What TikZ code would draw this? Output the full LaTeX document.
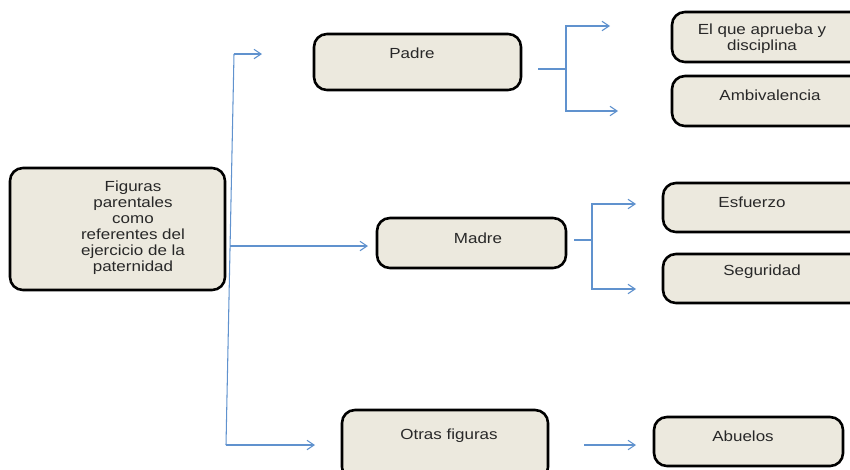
\documentclass[tikz,border=0pt]{standalone}
\usepackage{fontspec}
\setmainfont{Liberation Sans}[FakeStretch=1.16]
\usetikzlibrary{arrows.meta,calc}
\definecolor{boxfill}{RGB}{236,233,222}
\definecolor{linkblue}{RGB}{96,146,206}
\definecolor{textgray}{RGB}{40,40,40}

\begin{document}
\begin{tikzpicture}[x=0.03cm, y=-0.03cm, >={Straight Barb[length=6pt,width=8pt]},
  box/.style 2 args={draw, line width=2.2pt, rounded corners=11pt, fill=boxfill,
    minimum width=#1*0.03cm, minimum height=#2*0.03cm, inner sep=0pt},
  txt/.style={text=textgray, align=center, inner sep=0pt,
    font=\fontsize{12.5}{13.6}\selectfont},
  link/.style={linkblue, line width=0.9pt}]
\useasboundingbox (0,0) rectangle (850,469);
\clip (0,0) rectangle (850,469);

% boxes
\node[box={215}{122}] (figuras) at (117.5,229) {};
\node[box={207}{56}] (padre) at (417.5,62) {};
\node[box={189}{50}] (madre) at (471.5,243) {};
\node[box={206}{70}] (otras) at (445,445) {};
\node[box={198}{50}] (aprueba) at (771,37) {};
\node[box={198}{50}] (ambiv) at (771,101) {};
\node[box={207}{49}] (esfuerzo) at (766.5,207.5) {};
\node[box={207}{49}] (seguridad) at (766.5,278.5) {};
\node[box={189}{49}] (abuelos) at (748.5,441.5) {};

% texts
\node[txt] (figuras-t) at (133,228) {Figuras\\parentales\\como\\referentes del\\ejercicio de la\\paternidad};
\node[txt] (padre-t) at (412,53) {Padre};
\node[txt] (madre-t) at (478,238) {Madre};
\node[txt] (otras-t) at (449,436) {Otras figuras};
\node[txt] (aprueba-t) at (762,39) {El que aprueba y\\disciplina};
\node[txt] (ambiv-t) at (770,95) {Ambivalencia};
\node[txt] (esfuerzo-t) at (752,202) {Esfuerzo};
\node[txt] (seguridad-t) at (762,272) {Seguridad};
\node[txt] (abuelos-t) at (743,436) {Abuelos};

% main trunk
\coordinate (trunk-top) at (234,54);
\coordinate (trunk-mid) at (230,246);
\coordinate (trunk-bot) at (226,445);
\coordinate (to-padre) at (262,54);
\coordinate (to-madre) at (368,246);
\coordinate (to-otras) at (315,445);
\draw[link] (trunk-top) -- (trunk-bot);
\draw[link,->] (trunk-top) -- (to-padre);
\draw[link,->] (trunk-mid) -- (to-madre);
\draw[link,->] (trunk-bot) -- (to-otras);

% padre branch
\coordinate (p-out) at (538,69);
\coordinate (p-fork) at (566,69);
\coordinate (p-up) at (566,26);
\coordinate (p-dn) at (566,111);
\coordinate (p-up-end) at (610,26);
\coordinate (p-dn-end) at (618,111);
\draw[link] (p-out) -- (p-fork);
\draw[link,->] (p-fork) -- (p-up) -- (p-up-end);
\draw[link,->] (p-fork) -- (p-dn) -- (p-dn-end);

% madre branch
\coordinate (m-out) at (574,240);
\coordinate (m-fork) at (592,240);
\coordinate (m-up) at (592,204);
\coordinate (m-dn) at (592,289);
\coordinate (m-up-end) at (636,204);
\coordinate (m-dn-end) at (636,289);
\draw[link] (m-out) -- (m-fork);
\draw[link,->] (m-fork) -- (m-up) -- (m-up-end);
\draw[link,->] (m-fork) -- (m-dn) -- (m-dn-end);

% otras figuras
\coordinate (o-out) at (584,445);
\coordinate (o-end) at (636,445);
\draw[link,->] (o-out) -- (o-end);
\end{tikzpicture}
\end{document}
